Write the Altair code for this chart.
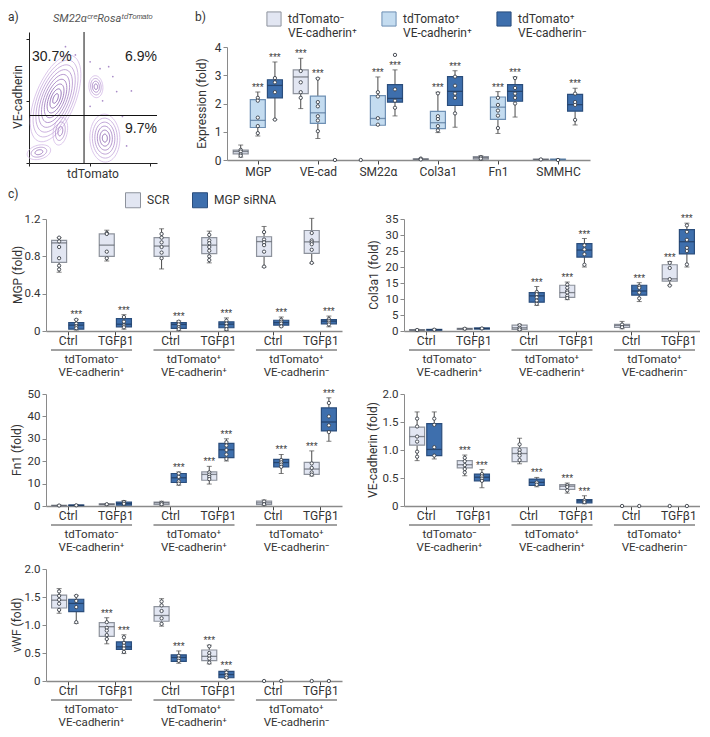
import math
import altair as alt
import pandas as pd

FONT = "Liberation Sans Narrow, Roboto, sans-serif"
INK = "#333333"
AXC = "#8a8a8a"
WHISK = "#4a4a4a"

LAV, LAV_EDGE, LAV_MED = "#e2e6f2", "#8d929c", "#555a63"
LBL, LBL_EDGE, LBL_MED = "#c4dcf0", "#6d8fb3", "#4d6e93"
DBL, DBL_EDGE, DBL_MED = "#3e6fad", "#2a4d7c", "#1d3557"

# ---------------------------------------------------------------- panel a data
clusters = ["main", "upper", "lowright", "lowleft", "mid"]
cl_x = [1.83, 3.09, 3.37, 1.31, 1.98]      # log10 tdTomato
cl_y = [2.97, 3.33, 1.76, 1.33, 1.97]      # log10 VE-cadherin
cl_rings = [9, 4, 6, 3, 3]
dots_x = [2.91, 3.22, 3.62, 3.74, 2.14, 2.45, 3.92, 4.05, 2.91, 3.49, 3.30, 4.20]
dots_y = [4.09, 3.88, 3.64, 3.18, 4.55, 4.30, 2.42, 1.52, 2.73, 3.94, 2.90, 3.20]
gate_x = [2.72]
gate_y = [2.45]
quad_pct = ["30.7%", "6.9%", "9.7%"]
genotype = "SM22αᶜʳᵉRosaᵗᵈᵀᵒᵐᵃᵗᵒ"

# ---------------------------------------------------------------- panel b data
genes = ["MGP", "VE-cad", "SM22α", "Col3a1", "Fn1", "SMMHC"]
b_groups = ["tdTomato⁻|VE-cadherin⁺", "tdTomato⁺|VE-cadherin⁺", "tdTomato⁺|VE-cadherin⁻"]
# (low, q1, median, q3, high) per gene, per group; None = single value at 0
b_stats = [
    [(0.10, 0.22, 0.30, 0.35, 0.53), (0.85, 1.15, 1.40, 2.14, 2.41), (1.43, 2.20, 2.64, 2.84, 3.47)],
    [(1.82, 2.35, 2.94, 3.19, 3.60), (0.76, 1.30, 1.67, 2.26, 2.90), None],
    [None, (1.23, 1.23, 1.47, 2.28, 2.94), (1.56, 2.05, 2.18, 2.67, 3.19)],
    [(0.00, 0.01, 0.03, 0.04, 0.06), (0.97, 1.11, 1.32, 1.72, 2.40), (1.16, 1.93, 2.43, 2.95, 3.16)],
    [(0.00, 0.03, 0.08, 0.12, 0.15), (0.94, 1.44, 1.87, 2.23, 2.42), (1.52, 2.08, 2.43, 2.67, 2.94)],
    [(0.00, 0.01, 0.02, 0.03, 0.03), (0.00, 0.01, 0.02, 0.03, 0.03), (1.24, 1.73, 1.96, 2.32, 2.54)],
]
b_points = [
    [[0.36, 0.30, 0.20, 0.15], [2.20, 2.10, 1.50, 1.20, 0.95], [2.90, 2.75, 2.40, 1.43]],
    [[3.15, 2.75, 2.40, 2.20], [2.88, 2.05, 1.90, 1.55, 1.40, 1.02], [0.0]],
    [[0.0], [2.40, 2.25, 1.48, 1.25], [3.72, 2.50, 2.10, 1.85]],
    [[0.05, 0.02], [2.36, 1.55, 1.45, 1.20, 1.05], [2.95, 2.63, 2.35, 2.20, 1.65]],
    [[0.10, 0.05], [2.20, 1.95, 1.75, 1.57, 1.13], [2.90, 2.55, 2.35, 2.20, 2.00]],
    [[0.02], [0.0], [2.35, 2.05, 1.95, 1.42]],
]
b_stars = [
    [0, 1, 1], [1, 1, 0], [0, 1, 1], [0, 1, 1], [0, 1, 1], [0, 0, 1],
]

# ---------------------------------------------------------------- panel c data
c_series = ["SCR", "MGP siRNA"]
c_conditions = ["Ctrl", "TGFβ1"]
c_group_l1 = ["tdTomato⁻", "tdTomato⁺", "tdTomato⁺"]
c_group_l2 = ["VE-cadherin⁺", "VE-cadherin⁺", "VE-cadherin⁻"]
# order: group -> condition -> series
mgp_stats = [
    (0.63, 0.735, 0.944, 0.972, 1.00), (0.01, 0.02, 0.063, 0.09, 0.126),
    (0.75, 0.80, 0.92, 1.04, 1.08), (0.02, 0.045, 0.073, 0.133, 0.175),
    (0.665, 0.80, 0.91, 1.00, 1.095), (0.007, 0.028, 0.07, 0.09, 0.108),
    (0.73, 0.83, 0.92, 1.00, 1.07), (0.007, 0.035, 0.073, 0.098, 0.14),
    (0.685, 0.80, 0.958, 1.01, 1.12), (0.045, 0.063, 0.09, 0.115, 0.15),
    (0.727, 0.832, 0.955, 1.077, 1.207), (0.045, 0.077, 0.105, 0.122, 0.16),
]
mgp_points = [
    [1.0, 0.96, 0.9, 0.78, 0.7, 0.66], [0.12, 0.08, 0.05, 0.03],
    [1.05, 1.04, 0.85, 0.78], [0.15, 0.1, 0.06, 0.04],
    [1.04, 1.0, 0.95, 0.9, 0.84, 0.78], [0.1, 0.07, 0.04, 0.02],
    [1.03, 0.97, 0.94, 0.9, 0.86, 0.8, 0.76], [0.11, 0.08, 0.05, 0.02],
    [1.06, 0.98, 0.95, 0.92, 0.85, 0.69], [0.12, 0.1, 0.08, 0.05],
    [1.05, 0.97, 0.95, 0.93, 0.87, 0.73], [0.13, 0.11, 0.09, 0.07],
]
mgp_stars = [0, 1, 0, 1, 0, 1, 0, 1, 0, 1, 0, 1]

col_stats = [
    (0.05, 0.15, 0.30, 0.45, 0.55), (0.20, 0.25, 0.40, 0.50, 0.60),
    (0.40, 0.50, 0.70, 0.85, 0.95), (0.50, 0.60, 0.80, 0.95, 1.05),
    (0.20, 0.50, 1.00, 1.84, 2.10), (8.0, 9.0, 11.0, 12.0, 13.9),
    (9.8, 10.5, 12.0, 14.3, 15.3), (20.0, 23.1, 25.3, 27.3, 28.9),
    (0.70, 1.10, 1.70, 2.10, 3.00), (9.2, 11.2, 12.5, 14.3, 15.1),
    (14.3, 15.6, 16.3, 20.7, 21.7), (20.0, 24.1, 27.9, 31.7, 33.7),
]
col_points = [
    [0.3], [0.4], [0.7], [0.8],
    [1.8, 1.0, 0.5], [12.2, 11.5, 10.5, 9.5, 8.5],
    [14.5, 13.5, 12.5, 12.0, 11.0, 10.3], [26.8, 25.5, 24.0, 20.7],
    [2.0, 1.2], [14.0, 13.5, 12.0, 10.2],
    [21.3, 19.7, 16.2, 14.2], [33.0, 31.0, 28.5, 26.0, 25.0, 20.8],
]
col_stars = [0, 0, 0, 0, 0, 1, 1, 1, 0, 1, 1, 1]

fn_stats = [
    (0.0, 0.1, 0.2, 0.3, 0.4), (0.1, 0.2, 0.3, 0.45, 0.55),
    (0.3, 0.5, 0.8, 1.0, 1.1), (0.3, 0.4, 1.1, 1.7, 2.4),
    (0.3, 0.6, 1.4, 1.7, 2.1), (9.3, 10.5, 12.6, 14.5, 15.2),
    (9.8, 11.5, 14.1, 15.2, 17.7), (20.1, 21.6, 25.1, 28.0, 30.0),
    (0.3, 0.6, 1.4, 2.2, 2.7), (14.5, 17.4, 19.4, 20.8, 23.0),
    (13.4, 14.1, 16.5, 19.5, 24.6), (28.9, 33.5, 37.5, 43.8, 48.3),
]
fn_points = [
    [0.2], [0.3], [0.8], [1.8, 1.0],
    [1.4, 0.8], [14.5, 13.0, 11.0, 10.0],
    [15.0, 14.0, 13.0, 12.0], [28.5, 27.0, 25.0, 23.0, 21.0],
    [2.0, 0.8], [20.5, 19.5, 18.5, 17.5],
    [19.0, 17.0, 15.0, 14.0], [46.0, 40.0, 36.0, 33.0],
]
fn_stars = [0, 0, 0, 0, 0, 1, 1, 1, 0, 1, 1, 1]

ve_stats = [
    (0.81, 1.086, 1.24, 1.41, 1.68), (0.84, 0.90, 1.01, 1.47, 1.68),
    (0.54, 0.68, 0.737, 0.81, 0.91), (0.326, 0.45, 0.514, 0.57, 0.65),
    (0.754, 0.794, 0.937, 1.04, 1.21), (0.343, 0.366, 0.423, 0.48, 0.51),
    (0.23, 0.297, 0.354, 0.383, 0.41), (0.04, 0.057, 0.091, 0.114, 0.183),
    None, None, None, None,
]
ve_points = [
    [1.56, 1.42, 1.24, 1.15, 0.97, 0.88], [1.56, 1.45, 1.05, 0.9],
    [0.86, 0.8, 0.73, 0.66, 0.6], [0.57, 0.53, 0.49, 0.45],
    [1.1, 1.0, 0.95, 0.9, 0.82], [0.42, 0.38],
    [0.37, 0.34, 0.28], [0.1, 0.07],
    [0.0], [0.0], [0.0], [0.0],
]
ve_stars = [0, 0, 1, 1, 0, 1, 1, 1, 0, 0, 0, 0]

vwf_stats = [
    (1.21, 1.304, 1.443, 1.535, 1.65), (1.03, 1.24, 1.385, 1.46, 1.53),
    (0.664, 0.796, 0.97, 1.044, 1.13), (0.49, 0.565, 0.61, 0.698, 0.825),
    (0.98, 1.067, 1.17, 1.327, 1.47), (0.317, 0.352, 0.42, 0.467, 0.537),
    (0.306, 0.364, 0.44, 0.554, 0.64), (0.046, 0.058, 0.115, 0.173, 0.20),
    None, None, None, None,
]
vwf_points = [
    [1.6, 1.52, 1.45, 1.38, 1.27], [1.52, 1.43, 1.32, 1.05],
    [1.05, 0.95, 0.9, 0.82, 0.75], [0.78, 0.68, 0.63, 0.58, 0.52],
    [1.42, 1.35, 1.25, 1.12, 1.02], [0.45, 0.4, 0.36],
    [0.62, 0.5, 0.45, 0.4, 0.33], [0.15, 0.1, 0.06],
    [0.0], [0.0], [0.0], [0.0],
]
vwf_stars = [0, 0, 1, 1, 0, 1, 1, 1, 0, 0, 0, 0]

# ============================================================ helpers
GHOST_X = -38


def text_chart(txt, x, y, align="left", size=12, color=INK, opacity=1.0, font=FONT,
               style="normal", baseline="middle", angle=0):
    return alt.Chart(pd.DataFrame({"t": [txt]})).mark_text(
        align=align, baseline=baseline, fontSize=size, color=color, opacity=opacity,
        font=font, fontStyle=style, angle=angle
    ).encode(text="t:N", x=alt.value(x), y=alt.value(y))


def ghost(top):
    # invisible anchor that fixes the panel's top-left extent for the layout
    return text_chart("c)", GHOST_X, top, baseline="top", opacity=0)


def box_layers(box_df, pts_df, star_df, X, Y, fill_scale, edge_scale, med_scale, legend, bw=15):
    whisk_lo = alt.Chart(box_df).mark_rule(color=WHISK, strokeWidth=1).encode(
        x=X("pos"), y=Y("low"), y2="q1")
    whisk_hi = alt.Chart(box_df).mark_rule(color=WHISK, strokeWidth=1).encode(
        x=X("pos"), y=Y("q3"), y2="high")
    cap_lo = alt.Chart(box_df).mark_tick(orient="horizontal", size=5, thickness=1, color=WHISK).encode(
        x=X("pos"), y=Y("low"))
    cap_hi = alt.Chart(box_df).mark_tick(orient="horizontal", size=5, thickness=1, color=WHISK).encode(
        x=X("pos"), y=Y("high"))
    box = alt.Chart(box_df).mark_bar(width=bw, strokeWidth=1.2).encode(
        x=X("pos"), y=Y("q1"), y2="q3",
        fill=alt.Fill("grp:N", scale=fill_scale, legend=legend),
        stroke=alt.Stroke("grp:N", scale=edge_scale, legend=None))
    med = alt.Chart(box_df).mark_tick(orient="horizontal", size=bw, thickness=1.3).encode(
        x=X("pos"), y=Y("med"), color=alt.Color("grp:N", scale=med_scale, legend=None))
    pts = alt.Chart(pts_df).mark_point(shape="circle", size=11, fill="white", filled=False,
                                       stroke="#3a3f48", strokeWidth=0.9, opacity=1).encode(
        x=X("pos"), y=Y("v"))
    stars = alt.Chart(star_df).mark_text(text="***", fontSize=10, baseline="alphabetic", dy=-1,
                                         color="#3a3a3a", font="Liberation Sans").encode(
        x=X("pos"), y=Y("high"))
    return [whisk_lo, whisk_hi, cap_lo, cap_hi, box, med, pts, stars]


# ============================================================ panel a
W_A, H_A = 111, 116
XR_A = [-17, 111]
YR_A = [116, -15]
shape_a = [46, 11, 24, 12, 14]
shape_b = [20, 7, 15, 7, 7]
shape_tilt = [68, 95, 92, 15, 80]


def ellipse_path(a, b, tilt):
    th = math.radians(tilt)
    pts = []
    for i in range(48):
        t = 2 * math.pi * i / 48
        x = (a * math.cos(t) * math.cos(th) - b * math.sin(t) * math.sin(th)) / a
        y = -(a * math.cos(t) * math.sin(th) + b * math.sin(t) * math.cos(th)) / a
        pts.append(f"{x:.3f},{y:.3f}")
    return "M" + " L".join(pts) + " Z"


paths = [ellipse_path(a, b, t) for a, b, t in zip(shape_a, shape_b, shape_tilt)]
ring_rows = []
for name, x, y, n, a in zip(clusters, cl_x, cl_y, cl_rings, shape_a):
    for k in range(1, n + 1):
        f = k / n
        ring_rows.append({"cluster": name, "x": x, "y": y, "sz": 4 * (a * f) ** 2, "f": f})
ring_df = pd.DataFrame(ring_rows).sort_values("f", ascending=False)

ticks_a = [round(d + math.log10(k), 4) for d in range(1, 5) for k in range(1, 10)] + [5]
ax_ax = alt.Axis(title=None, values=ticks_a, labels=False, tickSize=3, tickColor="#222",
                 domainColor="#222")
ax_ay = alt.Axis(title=None, values=ticks_a, labels=False, tickSize=3, tickColor="#222",
                 domainColor="#222", offset=-XR_A[0])
sx_a = alt.Scale(domain=[1, 5], range=XR_A, nice=False, zero=False)
sy_a = alt.Scale(domain=[1, 5], range=YR_A, nice=False, zero=False)


def XA(f):
    return alt.X(f"{f}:Q", scale=sx_a, axis=ax_ax)


def YA(f):
    return alt.Y(f"{f}:Q", scale=sy_a, axis=ax_ay)


rings = alt.Chart(ring_df).mark_point(filled=False, strokeWidth=0.8, opacity=1).encode(
    x=XA("x"), y=YA("y"),
    shape=alt.Shape("cluster:N", scale=alt.Scale(domain=clusters, range=paths), legend=None),
    size=alt.Size("sz:Q", scale=None),
    stroke=alt.Stroke("f:Q", scale=alt.Scale(domain=[0, 1], range=["#6a3d9a", "#d3b9e6"]), legend=None),
)
dots = alt.Chart(pd.DataFrame({"x": dots_x, "y": dots_y})).mark_circle(
    size=3, color="#a98cc8", opacity=1).encode(x=XA("x"), y=YA("y"))
vgate = alt.Chart(pd.DataFrame({"x": gate_x})).mark_rule(color="#111", strokeWidth=1).encode(
    x=XA("x"), y=alt.datum(1), y2=alt.datum(5))
hgate = alt.Chart(pd.DataFrame({"y": gate_y})).mark_rule(color="#111", strokeWidth=1).encode(
    y=YA("y"), x=alt.datum(1), x2=alt.datum(5))

panel_a = alt.layer(
    rings, dots, vgate, hgate,
    text_chart(quad_pct[0], -14, 10, "left", 14, "#222", font="Liberation Sans"),
    text_chart(quad_pct[1], 111, 10, "right", 14, "#222", font="Liberation Sans"),
    text_chart(quad_pct[2], 111, 82, "right", 14, "#222", font="Liberation Sans"),
    text_chart("a)", -38, -30),
    text_chart(genotype, 7, -28, "left", 11, "#555", style="italic"),
    text_chart("VE-cadherin", -28, 50, "center", 12, angle=270),
    text_chart("tdTomato", 47, 127, "center", 12),
    ghost(-38),
).properties(width=W_A, height=H_A)

# ============================================================ panel b
W_B, H_B = 363, 113
b_off = 0.285
b_rows, b_pts, b_star = [], [], []
for i, g in enumerate(genes):
    for j, grp in enumerate(b_groups):
        pos = i + (j - 1) * b_off
        st = b_stats[i][j]
        if st is not None:
            lo, q1, md, q3, hi = st
            b_rows.append({"pos": pos, "grp": grp, "low": lo, "q1": q1, "med": md, "q3": q3, "high": hi})
            if b_stars[i][j]:
                b_star.append({"pos": pos, "high": hi})
        for v in b_points[i][j]:
            b_pts.append({"pos": pos, "v": v})
b_box_df = pd.DataFrame(b_rows)
b_pts_df = pd.DataFrame(b_pts)
b_star_df = pd.DataFrame(b_star)

sx_b = alt.Scale(domain=[-0.43, 5.45], nice=False, zero=False)
sy_b = alt.Scale(domain=[0, 4], nice=False)
gene_expr = "[" + ",".join(f"'{g}'" for g in genes) + "][round(datum.value)]"
ax_bx = alt.Axis(values=list(range(6)), labelExpr=gene_expr, title=None, tickSize=4, labelPadding=2,
                 domainColor=AXC, domainWidth=1.5, tickColor="#444", labelFontSize=12, labelColor=INK)
ax_by = alt.Axis(values=[0, 1, 2, 3, 4], format="d", title=None, tickSize=4,
                 domainColor=AXC, tickColor=AXC, labelFontSize=12, labelColor=INK)


def XB(f):
    return alt.X(f"{f}:Q", scale=sx_b, axis=ax_bx)


def YB(f):
    return alt.Y(f"{f}:Q", scale=sy_b, axis=ax_by)


fill_b = alt.Scale(domain=b_groups, range=[LAV, LBL, DBL])
edge_b = alt.Scale(domain=b_groups, range=[LAV_EDGE, LBL_EDGE, DBL_EDGE])
med_b = alt.Scale(domain=b_groups, range=[LAV_MED, LBL_MED, DBL_MED])
leg_b = alt.Legend(orient="none", legendX=39, legendY=-36, direction="horizontal", columns=3, title=None,
                   symbolType="square", symbolSize=200, symbolStrokeColor="#7d828c", symbolStrokeWidth=1,
                   labelExpr="split(datum.label, '|')", labelFontSize=12, labelColor=INK, labelFont=FONT,
                   labelOffset=6, columnPadding=22, padding=0)

panel_b = alt.layer(
    *box_layers(b_box_df, b_pts_df, b_star_df, XB, YB, fill_b, edge_b, med_b, leg_b),
    text_chart("b)", -32, -30),
    text_chart("Expression (fold)", -25, H_B / 2, "center", 12, angle=270),
    ghost(-38),
).properties(width=W_B, height=H_B)

# ============================================================ panel c
W_C, H_C = 296, 112
c_base = [0, 1, 2.15, 3.15, 4.3, 5.3]
c_off = 0.18
sx_c = alt.Scale(domain=[-0.35, 5.65], nice=False, zero=False)
ax_cx = alt.Axis(values=c_base, labelExpr="round(datum.value*100) % 215 == 0 ? 'Ctrl' : 'TGFβ1'",
                 title=None, tickSize=4, labelPadding=0, domainColor=AXC, domainWidth=1.6,
                 tickColor="#444", labelFontSize=12, labelColor=INK)
fill_c = alt.Scale(domain=c_series, range=[LAV, DBL])
edge_c = alt.Scale(domain=c_series, range=[LAV_EDGE, DBL_EDGE])
med_c = alt.Scale(domain=c_series, range=[LAV_MED, DBL_MED])
leg_c = alt.Legend(orient="none", legendX=79, legendY=-27, direction="horizontal", columns=2, title=None,
                   symbolType="square", symbolSize=225, symbolStrokeColor="#7d828c", symbolStrokeWidth=1,
                   labelFontSize=12, labelColor=INK, labelFont=FONT, labelOffset=6, columnPadding=20,
                   padding=0)


def c_panel(ytitle, title_x, ydom, yticks, ydec, stats, points, stars, top, legend=None, letter=None):
    rows, pts, strs = [], [], []
    for g in range(3):
        for c in range(2):
            for s in range(2):
                k = g * 4 + c * 2 + s
                pos = c_base[2 * g + c] + (c_off if s else -c_off)
                if stats[k] is not None:
                    lo, q1, md, q3, hi = stats[k]
                    rows.append({"pos": pos, "grp": c_series[s], "low": lo, "q1": q1,
                                 "med": md, "q3": q3, "high": hi})
                    if stars[k]:
                        strs.append({"pos": pos, "high": hi})
                for v in points[k]:
                    pts.append({"pos": pos, "v": v})
    sy = alt.Scale(domain=ydom, nice=False)
    lab = "datum.value == 0 ? '0' : format(datum.value, '.%df')" % ydec
    ay = alt.Axis(values=yticks, labelExpr=lab, title=None, tickSize=4, domainColor=AXC, tickColor=AXC,
                  labelFontSize=11.5, labelColor=INK)

    def X(f):
        return alt.X(f"{f}:Q", scale=sx_c, axis=ax_cx)

    def Y(f):
        return alt.Y(f"{f}:Q", scale=sy, axis=ay)

    layers = box_layers(pd.DataFrame(rows), pd.DataFrame(pts), pd.DataFrame(strs), X, Y,
                        fill_c, edge_c, med_c, legend)
    centers = [c_base[2 * g] + 0.5 for g in range(3)]
    gdf = pd.DataFrame({"gx": centers, "l1": c_group_l1, "l2": c_group_l2,
                        "u0": [c - 0.85 for c in centers], "u1": [c + 0.85 for c in centers]})
    under = alt.Chart(gdf).mark_rule(color="#444", strokeWidth=1).encode(
        x=X("u0"), x2="u1", y=alt.value(H_C + 19))
    l1 = alt.Chart(gdf).mark_text(fontSize=11.5, color=INK, baseline="middle").encode(
        x=X("gx"), y=alt.value(H_C + 29), text="l1:N")
    l2 = alt.Chart(gdf).mark_text(fontSize=11.5, color=INK, baseline="middle").encode(
        x=X("gx"), y=alt.value(H_C + 41.5), text="l2:N")
    layers += [under, l1, l2]
    layers.append(text_chart(ytitle, title_x, H_C / 2, "center", 12, angle=270))
    if letter is not None:
        layers.append(text_chart(letter, -38, -25))
    layers.append(ghost(top))
    return alt.layer(*layers).properties(width=W_C, height=H_C)


panel_mgp = c_panel("MGP (fold)", -28, [0, 1.2], [0, 0.4, 0.8, 1.2], 1, mgp_stats, mgp_points, mgp_stars,
                    top=-31, legend=leg_c, letter="c)")
panel_col = c_panel("Col3a1 (fold)", -30, [0, 35], [0, 5, 10, 15, 20, 25, 30, 35], 0,
                    col_stats, col_points, col_stars, top=-31)
panel_fn = c_panel("Fn1 (fold)", -29, [0, 50], [0, 10, 20, 30, 40, 50], 0,
                   fn_stats, fn_points, fn_stars, top=-8)
panel_ve = c_panel("VE-cadherin (fold)", -31, [0, 2], [0, 0.5, 1.0, 1.5, 2.0], 1,
                   ve_stats, ve_points, ve_stars, top=-8)
panel_vwf = c_panel("vWF (fold)", -29, [0, 2], [0, 0.5, 1.0, 1.5, 2.0], 1,
                    vwf_stats, vwf_points, vwf_stars, top=-8)

IND = dict(fill="independent", stroke="independent", color="independent", shape="independent",
           size="independent")

row1 = alt.hconcat(panel_a, panel_b, spacing=15).resolve_scale(**IND)
row2 = alt.hconcat(panel_mgp, panel_col, spacing=24).resolve_scale(**IND)
row3 = alt.hconcat(panel_fn, panel_ve, spacing=24).resolve_scale(**IND)

chart = alt.vconcat(row1, row2, row3, panel_vwf, spacing=7).resolve_scale(**IND).properties(
    padding=0
).configure(font=FONT).configure_view(stroke=None).configure_axis(
    grid=False, labelFont=FONT, titleFont=FONT, titleFontWeight="normal", titleFontSize=12,
    labelColor=INK, titleColor=INK
).configure_legend(labelFont=FONT).configure_text(font=FONT)

chart.save("out.html", embed_options={"renderer": "svg", "actions": False})
